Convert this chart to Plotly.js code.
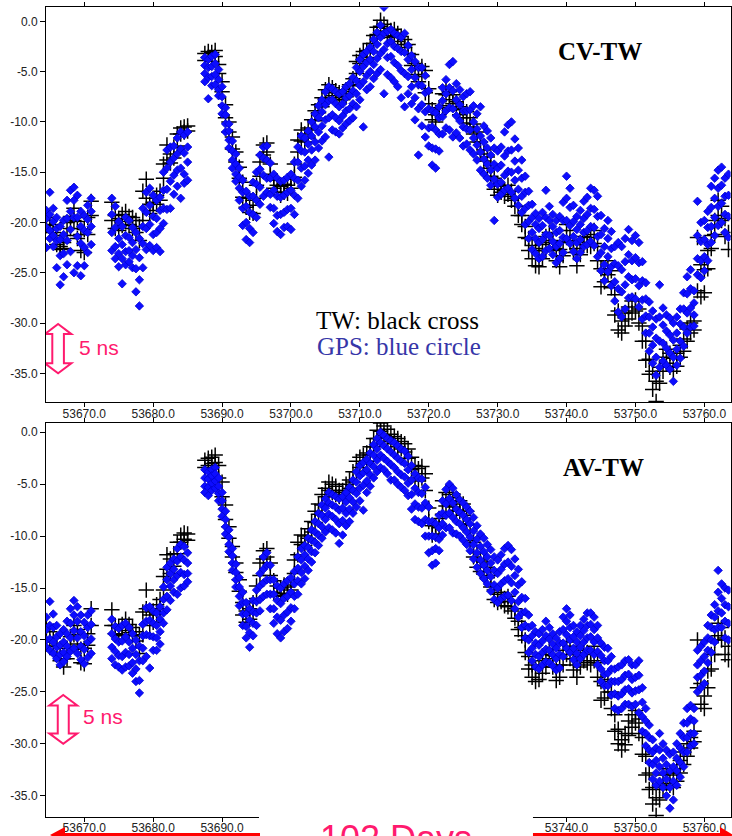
<!DOCTYPE html>
<html><head><meta charset="utf-8">
<script src="https://cdn.plot.ly/plotly-3.0.1.min.js"></script>
<style>html,body{margin:0;padding:0;background:#fff}#chart{width:732px;height:836px}</style>
</head><body><div id="chart"></div>
<script>
// Modified Julian Date of each sample group (both links share the same epochs)
const days = [
53664.5,53665,53665.5,53666,53666.5,
53667,53667.5,53668,53668.5,53669,
53669.5,53670,53670.5,53671,53674,
53674.5,53675,53675.5,53676,53676.5,
53677,53677.5,53678,53678.5,53679,
53679.5,53680,53680.5,53681,53681.5,
53682,53682.5,53683,53683.5,53684,
53684.5,53685,53687.5,53688,53688.5,
53689,53689.5,53690,53690.5,53691,
53691.5,53692,53692.5,53693,53693.5,
53694,53694.5,53695,53695.5,53696,
53696.5,53697,53697.5,53698,53698.5,
53699,53699.5,53700,53700.5,53701,
53701.5,53702,53702.5,53703,53703.5,
53704,53704.5,53705,53705.5,53706,
53706.5,53707,53707.5,53708,53708.5,
53709,53709.5,53710,53710.5,53711,
53711.5,53712,53712.5,53713,53713.5,
53714,53714.5,53715,53715.5,53716,
53716.5,53717,53717.5,53718,53718.5,
53719,53719.5,53720,53720.5,53721,
53721.5,53722,53722.5,53723,53723.5,
53724,53724.5,53725,53725.5,53726,
53726.5,53727,53727.5,53728,53728.5,
53729,53729.5,53730,53730.5,53731,
53731.5,53732,53732.5,53733,53733.5,
53734,53734.5,53735,53735.5,53736,
53736.5,53737,53737.5,53738,53738.5,
53739,53739.5,53740,53740.5,53741,
53741.5,53742,53742.5,53743,53743.5,
53744,53744.5,53745,53745.5,53746,
53746.5,53747,53747.5,53748,53748.5,
53749,53749.5,53750,53750.5,53751,
53751.5,53752,53752.5,53753,53753.5,
53754,53754.5,53755,53755.5,53756,
53756.5,53757,53757.5,53758,53758.5,
53759,53759.5,53760,53760.5,53761,
53761.5,53762,53762.5,53763,53763.5];

// CV-TW: TW link (black crosses), ns
const cvTw = [
[-19.5,-20.3],[-19.8,-20.6],[-20.2,-21.0],[-21.3,-22.2],[-22.4,-22.7],
[-22.0,-22.6],[-20.0,-21.3],[-19.4,-20.6],[-18.6,-19.8],[-19.9,-21.6],
[-21.2,-22.8],[-20.7,-23.0],[-19.5,-21.2],[-17.9,-19.3],[-18.0,-19.8],
[-19.3,-20.6],[-19.6,-20.8],[-19.2,-20.3],[-18.9,-19.9],[-19.4,-20.2],
[-19.5,-20.6],[-19.8,-21.0],[-20.4,-21.8],[-16.9,-19.8],[-15.7,-17.6],
[-18.2,-19.1],[-18.0,-18.8],[-17.3,-18.2],[-16.9,-17.8],[-14.2,-15.6],
[-12.3,-13.8],[-13.2,-14.1],[-12.5,-13.6],[-11.2,-12.4],[-10.6,-11.2],
[-10.5,-11.0],[-10.4,-10.9],[-3.2,-3.9],[-3.0,-3.6],[-3.1,-4.0],
[-2.9,-3.5],[-4.3,-5.2],[-6.0,-7.0],[-8.3,-9.6],[-10.0,-11.0],
[-11.5,-12.7],[-13.0,-14.0],[-14.5,-15.6],[-16.0,-17.5],[-17.6,-18.5],
[-18.3,-19.0],[-17.8,-19.1],[-16.3,-17.6],[-14.0,-15.4],[-12.3,-13.3],
[-12.1,-13.0],[-14.2,-15.2],[-15.8,-16.6],[-16.3,-17.0],[-16.4,-17.3],
[-16.2,-17.0],[-16.3,-17.1],[-15.7,-16.6],[-14.2,-15.5],[-11.8,-13.0],
[-10.8,-11.9],[-11.2,-12.0],[-10.6,-11.6],[-9.8,-10.8],[-8.9,-9.9],
[-8.3,-9.1],[-7.6,-8.5],[-6.8,-7.6],[-6.3,-7.1],[-6.6,-7.4],
[-6.9,-7.6],[-7.1,-7.8],[-7.2,-7.8],[-6.8,-7.5],[-6.3,-7.0],
[-5.7,-6.4],[-4.0,-5.2],[-3.4,-4.2],[-3.0,-3.8],[-2.9,-3.6],
[-2.2,-3.0],[-1.4,-2.2],[-0.6,-1.3],[0.1,-0.5],[-0.3,-1.0],
[-0.7,-1.4],[-0.9,-1.6],[-0.8,-1.5],[-1.2,-2.0],[-1.5,-2.3],
[-1.8,-2.6],[-2.3,-3.2],[-3.3,-4.4],[-4.2,-5.3],[-4.8,-6.0],
[-4.5,-5.5],[-4.9,-7.1],[-6.7,-8.2],[-8.8,-9.8],[-9.3,-10.0],
[-8.6,-9.3],[-7.2,-8.4],[-6.5,-7.3],[-7.0,-7.8],[-7.3,-8.2],
[-8.0,-8.8],[-8.5,-9.3],[-8.7,-9.6],[-9.0,-10.1],[-9.6,-10.5],
[-10.2,-11.2],[-11.0,-12.0],[-12.0,-13.2],[-12.8,-13.9],[-13.5,-14.6],
[-14.3,-15.4],[-15.6,-16.7],[-16.2,-17.3],[-16.4,-17.0],[-16.8,-17.4],
[-16.3,-17.2],[-16.9,-17.8],[-17.6,-18.4],[-18.4,-19.3],[-19.3,-20.2],
[-20.4,-21.5],[-21.6,-22.8],[-22.3,-23.6],[-22.6,-24.3],[-22.8,-24.4],
[-22.2,-23.6],[-21.4,-22.8],[-21.0,-22.0],[-21.8,-22.8],[-22.6,-23.8],
[-22.7,-24.4],[-21.9,-23.3],[-20.2,-21.5],[-20.8,-22.0],[-21.8,-23.0],
[-22.6,-24.3],[-22.0,-23.2],[-21.4,-22.2],[-21.5,-22.3],[-21.2,-22.4],
[-20.8,-22.1],[-22.4,-23.8],[-24.6,-26.4],[-24.8,-25.9],[-23.8,-25.2],
[-24.8,-26.5],[-27.2,-29.2],[-28.8,-30.7],[-29.8,-31.0],[-29.0,-30.3],
[-28.4,-29.6],[-27.8,-29.0],[-27.7,-28.8],[-28.6,-30.0],[-30.3,-31.8],
[-31.8,-33.7],[-33.6,-35.1],[-34.8,-36.6],[-35.8,-37.8],[-34.4,-36.0],
[-33.4,-34.8],[-32.6,-34.0],[-33.0,-34.4],[-33.5,-34.8],[-33.0,-34.3],
[-32.2,-33.4],[-31.6,-32.8],[-30.6,-31.8],[-30.0,-31.0],[-29.8,-30.7],
[-21.5,-26.8],[-24.2,-27.4],[-24.7,-27.0],[-22.8,-24.6],[-21.3,-22.6],
[-19.8,-21.2],[-17.8,-19.3],[-18.4,-19.8],[-19.6,-21.4],[-21.0,-22.7]];

// CV-TW: GPS link (blue symbols), ns
const cvGps = [
[-18.8,-19.6,-20.5,-22.5],[-17.0,-19.2,-20.8,-21.6],[-18.6,-19.9,-21.3,-22.4],[-19.5,-20.6,-21.8,-24.5],[-20.4,-21.7,-23.3,-26.2],
[-19.8,-21.2,-23.1,-25.4],[-17.8,-19.6,-21.8,-24.2],[-16.8,-18.9,-20.7,-22.9],[-16.5,-17.8,-19.5,-25.0],[-17.3,-19.5,-21.4,-24.3],
[-18.9,-20.4,-22.1,-25.3],[-19.3,-20.8,-22.5,-24.3],[-18.3,-19.7,-21.0,-23.0],[-17.6,-18.9,-20.4,-22.2],[-17.6,-19.2,-21.0,-22.8],
[-18.4,-20.5,-22.4,-23.6],[-19.9,-21.6,-23.1,-24.4],[-20.4,-22.2,-23.6,-26.1],[-19.5,-21.3,-22.9,-24.2],[-19.8,-21.5,-22.8,-23.9],
[-20.5,-22.0,-23.3,-24.5],[-21.0,-22.7,-24.6,-26.9],[-21.6,-23.5,-25.7,-28.3],[-18.6,-20.4,-22.1,-24.5],[-17.0,-19.0,-20.6,-22.7],
[-16.6,-18.3,-20.2,-22.3],[-17.3,-19.4,-21.2,-22.8],[-17.8,-19.6,-21.0,-22.5],[-17.5,-18.8,-20.6,-22.9],[-15.0,-16.8,-18.6,-20.1],
[-12.8,-14.6,-16.7,-18.7],[-12.5,-14.0,-15.9,-18.6],[-12.4,-13.6,-15.3,-17.2],[-11.6,-13.2,-14.8,-16.4],[-11.0,-12.7,-14.6,-17.6],
[-11.3,-13.1,-15.2,-16.1],[-11.0,-12.5,-14.0,-15.8],[-3.6,-4.4,-5.2,-6.0],[-3.8,-4.6,-5.6,-7.7],[-3.5,-4.5,-5.5,-6.4],
[-3.3,-4.2,-5.3,-6.3],[-4.8,-5.8,-6.8,-7.4],[-6.5,-7.5,-8.4,-9.2],[-8.6,-9.3,-10.2,-11.0],[-10.2,-10.9,-11.8,-12.6],
[-11.9,-12.9,-13.8,-14.6],[-13.2,-14.2,-15.2,-15.9],[-14.6,-15.5,-16.6,-17.8],[-15.8,-17.0,-18.6,-20.3],[-16.9,-18.4,-20.0,-21.7],
[-17.4,-19.0,-20.6,-22.0],[-16.0,-17.4,-19.2,-21.0],[-15.0,-16.2,-17.8,-19.5],[-13.3,-14.7,-16.5,-18.2],[-12.5,-13.6,-15.3,-17.4],
[-12.4,-13.8,-15.6,-17.0],[-14.1,-15.6,-17.2,-18.5],[-15.2,-16.8,-18.6,-20.1],[-15.6,-17.4,-19.3,-20.9],[-15.9,-17.5,-19.2,-21.2],
[-15.8,-17.3,-19.0,-20.5],[-15.5,-17.0,-18.7,-20.4],[-15.2,-16.8,-18.6,-20.7],[-14.0,-15.6,-17.3,-19.2],[-12.5,-14.0,-15.8,-17.6],
[-11.4,-12.9,-14.6,-16.4],[-11.6,-13.0,-14.4,-15.8],[-10.9,-12.2,-13.8,-15.1],[-10.0,-11.4,-12.8,-14.3],[-9.2,-10.5,-12.0,-13.8],
[-8.4,-9.6,-11.0,-12.6],[-7.8,-9.0,-10.4,-11.9],[-7.0,-8.3,-9.8,-11.5],[-6.5,-7.9,-9.6,-13.5],[-6.7,-7.8,-9.3,-10.8],
[-7.0,-8.2,-9.6,-11.0],[-7.2,-8.5,-9.9,-11.2],[-7.0,-8.2,-9.4,-10.6],[-6.5,-7.6,-8.9,-10.2],[-6.2,-7.4,-8.7,-9.9],
[-5.6,-6.9,-8.2,-9.6],[-4.6,-5.9,-7.2,-8.5],[-3.8,-5.0,-6.4,-7.8],[-3.3,-4.5,-6.0,-10.5],[-3.0,-4.1,-5.4,-6.8],
[-2.6,-3.8,-5.0,-6.5],[-1.8,-3.0,-4.3,-5.7],[-1.1,-2.3,-3.7,-5.2],[-0.4,-1.6,-3.2,-4.8],[1.4,-1.2,-2.8,-7.2],
[-1.0,-2.2,-3.6,-5.3],[-0.8,-2.0,-3.5,-5.6],[-1.2,-2.5,-4.1,-6.0],[-1.4,-2.7,-4.4,-6.5],[-1.6,-3.0,-4.9,-7.6],
[-1.2,-3.1,-5.2,-8.5],[-2.4,-3.8,-5.5,-7.2],[-3.4,-4.8,-6.5,-8.2],[-4.0,-5.6,-7.6,-9.8],[-4.6,-6.3,-8.7,-13.3],
[-4.6,-6.4,-8.3,-10.4],[-5.4,-7.1,-9.0,-11.5],[-6.9,-8.7,-10.6,-12.4],[-8.9,-10.5,-12.6,-14.3],[-9.1,-10.8,-12.7,-14.6],
[-8.5,-9.6,-11.2,-12.9],[-6.6,-7.9,-9.5,-11.2],[-5.8,-7.2,-8.9,-10.6],[-4.3,-6.6,-8.6,-10.8],[-4.0,-6.9,-8.7,-11.5],
[-6.2,-7.8,-9.4,-11.1],[-6.8,-8.3,-9.9,-11.6],[-7.5,-8.9,-10.5,-12.4],[-7.2,-8.9,-10.7,-12.2],[-7.0,-8.8,-10.8,-12.8],
[-8.4,-10.0,-11.6,-13.2],[-9.2,-10.7,-12.3,-13.8],[-8.5,-11.4,-13.0,-14.8],[-10.4,-12.0,-13.7,-15.2],[-10.9,-12.6,-14.2,-15.6],
[-11.6,-13.3,-14.8,-16.3],[-12.6,-14.2,-15.7,-19.8],[-12.9,-14.6,-16.2,-17.5],[-12.5,-14.3,-16.0,-17.2],[-11.0,-13.4,-15.3,-16.8],
[-10.3,-12.9,-14.9,-16.6],[-10.0,-12.8,-15.0,-17.0],[-11.7,-13.9,-15.8,-17.6],[-12.6,-14.8,-16.7,-18.3],[-13.8,-15.6,-17.4,-19.0],
[-15.4,-17.0,-18.6,-20.2],[-16.9,-18.3,-19.9,-21.6],[-18.2,-19.5,-21.0,-22.7],[-19.1,-20.2,-21.6,-23.1],[-19.6,-20.6,-22.0,-23.6],
[-19.0,-20.3,-21.7,-23.4],[-16.8,-19.5,-21.2,-22.8],[-18.4,-19.8,-21.3,-22.6],[-19.2,-20.4,-21.9,-23.2],[-19.8,-21.0,-22.4,-24.0],
[-19.4,-20.8,-22.1,-23.6],[-18.0,-19.8,-21.5,-23.0],[-15.4,-17.6,-19.8,-21.6],[-16.6,-18.5,-20.3,-22.1],[-18.3,-19.9,-21.4,-22.9],
[-19.4,-20.7,-22.0,-23.6],[-18.8,-20.2,-21.7,-23.0],[-17.9,-19.6,-21.0,-22.4],[-17.5,-19.2,-20.8,-22.2],[-16.6,-18.6,-20.4,-21.9],
[-16.8,-18.7,-20.5,-22.3],[-17.4,-19.4,-21.4,-23.4],[-19.3,-21.2,-23.0,-24.8],[-20.6,-22.4,-24.2,-25.8],[-19.8,-21.6,-23.4,-24.9],
[-20.9,-22.6,-24.4,-26.3],[-22.4,-24.1,-25.9,-27.8],[-22.0,-24.3,-26.6,-28.9],[-22.4,-24.7,-26.9,-29.4],[-21.6,-23.9,-26.2,-28.6],
[-20.7,-23.2,-25.4,-27.5],[-21.8,-23.8,-25.7,-27.4],[-21.3,-23.5,-25.6,-27.6],[-22.0,-24.0,-26.3,-28.4],[-23.9,-25.8,-27.7,-29.6],
[-26.0,-27.6,-29.3,-31.0],[-27.9,-29.4,-31.0,-32.8],[-28.8,-30.4,-32.2,-34.0],[-29.6,-31.5,-33.4,-35.2],[-26.2,-29.4,-31.8,-34.4],
[-28.5,-30.2,-32.0,-33.8],[-29.2,-30.8,-32.5,-34.2],[-29.5,-31.2,-33.0,-34.6],[-30.0,-31.7,-33.4,-35.8],[-29.4,-31.0,-32.6,-34.2],
[-28.6,-30.1,-31.8,-33.5],[-27.0,-28.6,-30.4,-32.3],[-25.4,-27.1,-29.0,-31.0],[-24.7,-26.6,-28.5,-30.4],[-26.8,-28.0,-29.2,-30.3],
[-17.9,-21.3,-23.6,-25.2],[-20.0,-21.9,-23.8,-25.5],[-19.8,-21.7,-23.4,-24.8],[-18.9,-20.5,-22.2,-23.8],[-16.4,-18.5,-20.4,-22.0],
[-15.6,-17.6,-19.5,-21.3],[-14.8,-16.6,-18.4,-20.3],[-14.5,-16.3,-18.1,-20.0],[-15.6,-17.4,-19.2,-21.0],[-15.2,-17.3,-19.4,-21.5]];

// AV-TW: TW link (black crosses), ns
const avTw = [
[-18.6,-19.8],[-19.2,-20.2],[-19.8,-20.6],[-20.6,-21.4],[-21.5,-22.0],
[-21.8,-22.6],[-20.8,-21.8],[-19.7,-20.6],[-18.6,-19.5],[-19.0,-20.4],
[-20.9,-22.2],[-20.8,-22.3],[-19.4,-20.5],[-17.0,-18.6],[-17.1,-18.6],
[-18.6,-19.4],[-18.8,-19.6],[-18.5,-19.5],[-18.0,-19.1],[-18.5,-19.3],
[-18.8,-19.6],[-19.2,-20.1],[-19.6,-21.3],[-17.3,-19.5],[-15.2,-17.0],
[-17.6,-18.6],[-17.2,-18.3],[-16.6,-17.5],[-16.1,-17.0],[-13.9,-15.2],
[-11.8,-13.2],[-12.2,-13.6],[-11.7,-12.9],[-10.6,-11.7],[-9.9,-10.6],
[-9.7,-10.3],[-9.8,-10.4],[-2.7,-3.4],[-2.5,-3.2],[-2.4,-3.0],
[-2.2,-2.9],[-3.2,-4.4],[-4.8,-6.2],[-7.0,-8.4],[-9.1,-10.2],
[-11.0,-12.0],[-12.6,-13.5],[-14.2,-15.3],[-16.4,-17.6],[-17.2,-18.3],
[-17.0,-18.0],[-16.4,-17.3],[-14.8,-16.0],[-12.6,-13.8],[-11.4,-12.2],
[-11.2,-12.0],[-12.6,-13.8],[-14.3,-15.4],[-14.8,-15.7],[-15.0,-15.8],
[-14.7,-15.5],[-14.9,-15.6],[-14.2,-15.2],[-12.3,-13.6],[-10.6,-11.8],
[-9.9,-10.8],[-10.0,-10.9],[-9.3,-10.2],[-8.6,-9.6],[-7.6,-8.7],
[-6.9,-7.9],[-6.0,-7.0],[-5.4,-6.2],[-4.8,-5.6],[-5.0,-5.8],
[-5.2,-6.0],[-5.6,-6.2],[-5.6,-6.4],[-5.0,-5.8],[-4.6,-5.4],
[-3.8,-4.8],[-2.8,-3.8],[-2.4,-3.4],[-2.2,-3.0],[-2.0,-2.8],
[-1.4,-2.2],[-0.6,-1.4],[0.2,-0.6],[0.9,0.1],[0.6,-0.3],
[0.3,-0.5],[-0.2,-0.9],[-0.4,-1.1],[-0.6,-1.4],[-0.9,-1.6],
[-1.1,-1.9],[-1.6,-2.5],[-2.4,-3.6],[-3.2,-4.4],[-3.5,-4.7],
[-3.3,-4.4],[-4.0,-5.6],[-7.3,-8.6],[-9.0,-9.9],[-9.0,-9.8],
[-8.3,-9.2],[-6.6,-7.9],[-5.8,-7.1],[-6.0,-6.9],[-6.3,-7.2],
[-6.7,-7.5],[-6.6,-7.6],[-6.9,-8.0],[-7.6,-8.8],[-8.9,-10.4],
[-10.6,-12.0],[-11.6,-13.0],[-12.3,-13.4],[-12.5,-13.4],[-13.0,-14.0],
[-13.8,-14.9],[-15.2,-16.1],[-15.6,-16.4],[-15.4,-16.3],[-16.0,-16.7],
[-15.8,-16.8],[-16.3,-17.2],[-17.0,-17.9],[-18.2,-19.0],[-18.8,-19.6],
[-20.0,-21.2],[-21.6,-22.8],[-22.4,-23.6],[-22.8,-24.0],[-22.6,-23.8],
[-22.0,-23.2],[-21.4,-22.6],[-20.9,-21.8],[-21.5,-22.6],[-22.6,-23.9],
[-22.4,-23.6],[-21.0,-22.4],[-20.2,-21.4],[-20.6,-21.8],[-21.8,-22.9],
[-22.4,-23.6],[-21.6,-22.6],[-21.0,-22.0],[-21.2,-22.2],[-21.4,-22.4],
[-20.6,-22.0],[-22.2,-23.6],[-24.0,-25.8],[-24.4,-25.6],[-23.8,-25.0],
[-25.0,-26.6],[-27.2,-28.8],[-28.6,-30.0],[-29.6,-30.6],[-29.0,-30.1],
[-27.8,-29.2],[-27.2,-28.4],[-26.8,-28.0],[-27.6,-29.0],[-29.4,-31.0],
[-31.2,-33.0],[-32.8,-34.4],[-34.2,-35.8],[-35.2,-36.9],[-34.0,-35.4],
[-33.0,-34.4],[-32.4,-33.8],[-32.8,-34.0],[-33.0,-34.2],[-32.4,-33.6],
[-31.6,-32.8],[-30.8,-32.0],[-30.0,-31.2],[-29.4,-30.4],[-28.8,-29.8],
[-20.0,-24.6],[-24.2,-26.2],[-25.4,-26.6],[-23.0,-24.6],[-21.4,-22.8],
[-20.0,-21.4],[-18.4,-19.6],[-18.8,-20.0],[-19.8,-21.4],[-20.6,-21.9]];

// AV-TW: GPS link (blue symbols), ns
const avGps = [
[-17.8,-19.0,-20.0,-20.7],[-16.3,-18.6,-19.9,-21.0],[-17.5,-18.8,-20.2,-21.3],[-18.6,-19.7,-20.7,-21.8],[-19.4,-20.5,-21.4,-22.4],
[-19.0,-20.2,-21.2,-22.1],[-18.2,-19.4,-20.6,-21.6],[-17.0,-18.4,-19.8,-21.1],[-16.2,-17.6,-19.1,-20.8],[-16.8,-18.2,-19.8,-21.3],
[-17.6,-19.2,-20.6,-21.9],[-18.3,-19.6,-20.9,-22.3],[-17.6,-18.8,-20.2,-21.7],[-17.2,-18.5,-19.9,-21.3],[-18.0,-19.4,-20.7,-21.8],
[-18.7,-19.9,-21.1,-22.4],[-18.9,-20.2,-21.5,-22.6],[-18.6,-20.1,-21.6,-22.9],[-18.4,-19.7,-21.2,-22.6],[-18.8,-20.2,-21.4,-22.5],
[-19.4,-20.8,-22.2,-23.2],[-20.0,-21.4,-22.8,-24.0],[-20.6,-22.0,-23.9,-25.1],[-18.5,-19.6,-20.8,-22.0],[-16.9,-18.2,-19.5,-21.6],
[-16.8,-18.1,-19.6,-22.7],[-17.2,-18.4,-19.7,-21.0],[-17.4,-18.6,-19.8,-21.0],[-16.8,-18.0,-19.2,-20.4],[-14.9,-16.1,-17.4,-18.4],
[-13.0,-14.2,-15.8,-17.1],[-12.6,-13.6,-14.8,-16.2],[-12.2,-13.2,-14.2,-15.4],[-11.2,-12.4,-13.8,-15.6],[-10.8,-12.0,-13.5,-15.0],
[-11.0,-12.3,-13.7,-14.8],[-11.6,-12.6,-13.6,-14.4],[-3.6,-4.4,-5.2,-5.8],[-3.8,-4.5,-5.3,-6.1],[-3.6,-4.2,-4.9,-5.6],
[-3.4,-4.0,-4.7,-5.4],[-4.4,-5.2,-5.9,-6.6],[-5.8,-6.6,-7.4,-8.1],[-7.6,-8.4,-9.1,-9.8],[-9.4,-10.1,-10.8,-11.5],
[-11.2,-11.9,-12.6,-13.3],[-12.7,-13.5,-14.2,-14.9],[-14.0,-14.9,-15.8,-16.7],[-15.4,-16.4,-17.5,-18.6],[-16.4,-17.5,-18.7,-19.8],
[-17.0,-18.1,-19.3,-20.7],[-16.2,-17.3,-18.4,-19.6],[-15.2,-16.3,-17.4,-18.6],[-13.6,-14.8,-16.1,-17.2],[-12.0,-13.2,-14.5,-15.8],
[-11.6,-12.8,-14.2,-15.6],[-12.8,-14.2,-15.6,-17.0],[-14.2,-15.6,-17.0,-18.4],[-14.8,-16.2,-17.8,-19.4],[-15.0,-16.5,-18.1,-19.8],
[-14.6,-16.0,-17.6,-19.2],[-14.3,-15.8,-17.3,-18.9],[-14.0,-15.4,-16.9,-18.2],[-13.4,-14.6,-15.8,-17.0],[-12.0,-13.1,-14.3,-15.6],
[-11.2,-12.3,-13.5,-14.6],[-10.9,-11.8,-12.9,-14.1],[-10.2,-11.1,-12.2,-13.3],[-9.4,-10.4,-11.5,-12.5],[-8.6,-9.6,-10.6,-11.6],
[-7.8,-8.8,-9.9,-10.9],[-7.0,-8.0,-9.1,-10.2],[-6.4,-7.3,-8.4,-9.6],[-5.8,-6.8,-7.9,-9.2],[-6.0,-7.0,-8.1,-9.4],
[-6.2,-7.2,-8.4,-9.7],[-6.4,-7.5,-8.8,-10.7],[-6.2,-7.3,-8.5,-9.9],[-5.8,-6.7,-7.8,-9.0],[-5.3,-6.3,-7.4,-8.6],
[-4.6,-5.6,-6.7,-7.8],[-3.8,-4.8,-5.9,-7.2],[-3.2,-4.2,-5.4,-6.6],[-2.9,-3.9,-5.1,-7.5],[-2.6,-3.6,-4.7,-5.8],
[-2.0,-3.0,-4.1,-5.2],[-1.2,-2.2,-3.3,-4.4],[-0.6,-1.6,-2.7,-3.8],[0.0,-1.0,-2.2,-3.4],[-0.3,-1.3,-2.5,-3.6],
[-0.6,-1.6,-2.8,-4.0],[-0.8,-1.9,-3.1,-4.6],[-1.0,-2.2,-3.4,-4.6],[-1.3,-2.5,-3.8,-5.0],[-1.6,-2.8,-4.1,-5.3],
[-1.8,-3.0,-4.3,-5.6],[-2.3,-3.6,-4.9,-6.1],[-3.2,-4.6,-6.0,-7.4],[-4.0,-5.4,-6.9,-8.4],[-4.4,-5.8,-7.2,-8.6],
[-4.5,-5.9,-7.3,-8.8],[-5.3,-6.8,-8.4,-10.0],[-7.2,-8.6,-10.0,-11.6],[-8.6,-10.0,-11.4,-12.8],[-8.8,-10.1,-11.2,-12.6],
[-8.0,-9.2,-10.3,-11.4],[-6.6,-7.8,-8.8,-9.9],[-5.5,-6.9,-8.0,-9.2],[-5.0,-6.4,-7.8,-9.2],[-5.4,-6.8,-8.2,-9.7],
[-6.0,-7.4,-8.6,-9.8],[-6.5,-7.7,-8.8,-10.0],[-6.8,-8.0,-9.2,-10.4],[-7.2,-8.4,-9.6,-10.8],[-7.6,-8.8,-10.1,-11.4],
[-8.2,-9.5,-10.8,-12.2],[-9.0,-10.3,-11.6,-13.0],[-9.8,-11.0,-12.3,-13.6],[-10.2,-11.5,-12.8,-14.1],[-10.8,-12.0,-13.3,-14.6],
[-11.3,-12.6,-13.9,-15.3],[-12.0,-13.3,-14.7,-16.1],[-12.3,-13.6,-15.0,-16.4],[-11.8,-13.2,-14.6,-16.0],[-11.2,-12.7,-14.3,-15.8],
[-10.9,-12.5,-14.1,-15.7],[-11.3,-12.9,-14.5,-16.2],[-12.2,-13.8,-15.4,-17.0],[-13.2,-14.7,-16.3,-17.8],[-14.4,-15.9,-17.4,-18.8],
[-16.0,-17.3,-18.6,-19.8],[-17.6,-18.8,-20.0,-21.2],[-18.6,-19.6,-20.8,-22.0],[-19.2,-20.3,-21.4,-22.6],[-19.4,-20.5,-21.6,-22.8],
[-19.0,-20.1,-21.2,-22.4],[-18.2,-19.6,-20.9,-22.1],[-18.8,-19.9,-21.0,-22.2],[-19.4,-20.4,-21.4,-22.5],[-19.8,-20.8,-21.8,-22.9],
[-19.2,-20.3,-21.4,-22.7],[-17.8,-19.0,-20.3,-21.6],[-17.0,-18.2,-19.5,-20.8],[-17.6,-18.8,-20.0,-21.2],[-18.6,-19.7,-20.8,-21.9],
[-19.2,-20.2,-21.3,-22.4],[-18.6,-19.6,-20.7,-21.8],[-18.0,-19.1,-20.2,-21.4],[-17.4,-18.6,-19.8,-21.0],[-17.4,-18.5,-19.7,-21.0],
[-17.8,-19.0,-20.2,-21.4],[-18.6,-19.8,-21.1,-22.4],[-20.3,-21.5,-22.8,-24.0],[-20.7,-22.0,-23.3,-24.4],[-20.8,-22.0,-23.2,-24.4],
[-21.6,-22.8,-24.0,-25.3],[-22.8,-24.0,-25.2,-26.6],[-22.6,-24.0,-25.4,-26.8],[-22.4,-23.8,-25.2,-26.6],[-22.0,-23.4,-24.8,-26.2],
[-21.9,-23.3,-24.7,-26.2],[-22.4,-23.8,-25.1,-26.4],[-22.4,-23.6,-24.9,-26.2],[-22.0,-23.4,-24.8,-27.0],[-24.6,-26.0,-27.4,-28.8],
[-26.6,-27.8,-29.0,-30.2],[-28.2,-29.4,-30.6,-31.8],[-29.6,-30.8,-32.0,-33.4],[-30.4,-31.6,-32.8,-34.0],[-29.0,-30.6,-32.2,-33.6],
[-30.0,-31.4,-32.8,-34.2],[-30.6,-32.0,-33.4,-35.0],[-31.0,-32.6,-34.2,-36.2],[-30.8,-32.2,-33.6,-35.4],[-30.0,-31.4,-32.6,-34.0],
[-29.0,-30.4,-31.8,-33.2],[-28.0,-29.4,-30.8,-32.2],[-26.6,-28.0,-29.4,-30.8],[-26.3,-27.6,-29.0,-30.2],[-26.6,-27.8,-29.0,-30.0],
[-21.0,-22.4,-23.6,-25.0],[-20.6,-22.0,-23.4,-24.6],[-20.2,-21.6,-23.0,-24.2],[-18.6,-19.8,-21.0,-22.2],[-17.6,-18.8,-20.0,-21.2],
[-16.6,-17.8,-19.0,-20.2],[-13.3,-15.4,-17.2,-18.8],[-14.6,-16.0,-17.4,-18.8],[-15.0,-16.6,-18.2,-19.8],[-15.2,-16.8,-18.4,-20.0]];

const xTickVals = [53670,53680,53690,53700,53710,53720,53730,53740,53750,53760];
const xTickText = ['53670.0','53680.0','53690.0','53700.0','53710.0','53720.0','53730.0','53740.0','53750.0','53760.0'];
// lower panel: the middle labels are hidden under the "102 Days" banner in the original
const xTickTextLower = ['53670.0','53680.0','53690.0','','','','','53740.0','53750.0','53760.0'];
const yTickVals = [0,-5,-10,-15,-20,-25,-30,-35];
const yTickText = ['0.0','-5.0','-10.0','-15.0','-20.0','-25.0','-30.0','-35.0'];
const panelNames = ['CV-TW','AV-TW'];
const legendLines = ['TW: black cross','GPS: blue circle'];

function pts(rows){
  const x=[], y=[];
  rows.forEach((r,i)=>{ if(!r || days[i]===undefined) return; r.forEach(v=>{ x.push(days[i]); y.push(v); }); });
  return {x, y};
}
const twMarker = {symbol:'cross-thin', size:11, color:'#000', line:{width:1.5, color:'#000'}};
const gpsMarker = {symbol:'diamond', size:6.5, color:'#0d0dff', line:{width:0.8, color:'#0000d0'}};

const a = pts(cvTw), b = pts(cvGps), c = pts(avTw), d = pts(avGps);
const traces = [
  {type:'scatter', mode:'markers', x:a.x, y:a.y, xaxis:'x', yaxis:'y', marker:twMarker, name:'TW'},
  {type:'scatter', mode:'markers', x:b.x, y:b.y, xaxis:'x', yaxis:'y', marker:gpsMarker, name:'GPS'},
  {type:'scatter', mode:'markers', x:c.x, y:c.y, xaxis:'x2', yaxis:'y2', marker:twMarker, name:'TW'},
  {type:'scatter', mode:'markers', x:d.x, y:d.y, xaxis:'x2', yaxis:'y2', marker:gpsMarker, name:'GPS'}
];

const tickFont = {family:'Liberation Sans, Arial, sans-serif', size:12, color:'#222'};
function xAx(anchor, labels){
  return {domain:[0.0628,0.998], range:[53664.44,53763.80], anchor:anchor,
    tickmode:'array', tickvals:xTickVals, ticktext:labels, ticks:'outside', ticklen:4, tickwidth:1, tickcolor:'#000',
    ticklabelstandoff:-4,
    showline:true, linecolor:'#000', linewidth:1, mirror:'ticks', showgrid:false, zeroline:false, tickfont:tickFont};
}
function yAx(anchor, dom, rng){
  return {domain:dom, range:rng, anchor:anchor,
    tickmode:'array', tickvals:yTickVals, ticktext:yTickText, ticks:'outside', ticklen:5, tickwidth:1, tickcolor:'#000',
    showline:true, linecolor:'#000', linewidth:1, mirror:true, showgrid:false, zeroline:false, tickfont:tickFont};
}
const pink = '#ff1a6e';
const serif = 'Liberation Serif, Times New Roman, serif';
const layout = {
  width:732, height:836, margin:{l:0,r:0,t:0,b:0}, paper_bgcolor:'#fff', plot_bgcolor:'#fff',
  showlegend:false, hovermode:false,
  xaxis:xAx('y', xTickText), yaxis:yAx('x',[0.5188,0.9913],[-37.88,1.395]),
  xaxis2:xAx('y2', xTickTextLower), yaxis2:yAx('x2',[0.0227,0.4943],[-37.05,0.915]),
  shapes:[
    {type:'path', xref:'x', yref:'y', xsizemode:'pixel', xanchor:53666.2,
     path:'M0,-30.1 L13.3,-31.1 L5.8,-31.1 L5.8,-34.0 L13.3,-34.0 L0,-35.0 L-13.3,-34.0 L-5.8,-34.0 L-5.8,-31.1 L-13.3,-31.1 Z',
     line:{color:pink, width:2}, fillcolor:'rgba(0,0,0,0)'},
    {type:'path', xref:'x2', yref:'y2', xsizemode:'pixel', xanchor:53666.95,
     path:'M0,-25.3 L14,-26.3 L5.5,-26.3 L5.5,-29.0 L14,-29.0 L0,-30.0 L-14,-29.0 L-5.5,-29.0 L-5.5,-26.3 L-14,-26.3 Z',
     line:{color:pink, width:2}, fillcolor:'rgba(0,0,0,0)'},
    {type:'rect', xref:'paper', yref:'paper', x0:0.3538, x1:0.7281, y0:-0.02, y1:0.0371, layer:'above',
     line:{width:0}, fillcolor:'#fff'},
    {type:'line', xref:'paper', yref:'paper', x0:0.082, x1:0.3552, y0:0.0012, y1:0.0012, layer:'above', line:{color:'#ff0000', width:4}},
    {type:'path', xref:'paper', yref:'paper', layer:'above', line:{width:0}, fillcolor:'#ff0000',
     path:'M0.0683,0.0012 L0.0888,0.0108 L0.0888,-0.0084 Z'},
    {type:'line', xref:'paper', yref:'paper', x0:0.7281, x1:0.9850, y0:0.0012, y1:0.0012, layer:'above', line:{color:'#ff0000', width:4}},
    {type:'path', xref:'paper', yref:'paper', layer:'above', line:{width:0}, fillcolor:'#ff0000',
     path:'M1.0014,0.0012 L0.9836,0.0108 L0.9836,-0.0084 Z'}
  ],
  annotations:[
    {xref:'paper', yref:'paper', x:0.8197, y:0.9378, text:'<b>'+panelNames[0]+'</b>', showarrow:false,
     font:{family:serif, size:25, color:'#000'}, xanchor:'center', yanchor:'middle'},
    {xref:'paper', yref:'paper', x:0.8238, y:0.4402, text:'<b>'+panelNames[1]+'</b>', showarrow:false,
     font:{family:serif, size:25, color:'#000'}, xanchor:'center', yanchor:'middle'},
    {xref:'paper', yref:'paper', x:0.5437, y:0.6165, text:legendLines[0], showarrow:false,
     font:{family:serif, size:25, color:'#000'}, xanchor:'center', yanchor:'middle'},
    {xref:'paper', yref:'paper', x:0.5451, y:0.5856, text:legendLines[1], showarrow:false,
     font:{family:serif, size:25, color:'#3636a8'}, xanchor:'center', yanchor:'middle'},
    {xref:'x', yref:'y', x:53668.94, y:-32.4, text:'5 ns', showarrow:false,
     font:{family:'Liberation Sans, Arial, sans-serif', size:21, color:pink}, xanchor:'left', yanchor:'middle'},
    {xref:'x2', yref:'y2', x:53669.52, y:-27.4, text:'5 ns', showarrow:false,
     font:{family:'Liberation Sans, Arial, sans-serif', size:21, color:pink}, xanchor:'left', yanchor:'middle'},
    {xref:'paper', yref:'paper', x:0.541, y:0.0245, text:'102 Days', showarrow:false,
     font:{family:'Liberation Sans, Arial, sans-serif', size:36, color:pink}, xanchor:'center', yanchor:'top'}
  ]
};
Plotly.newPlot('chart', traces, layout, {staticPlot:true, displayModeBar:false});
</script>
</body></html>
